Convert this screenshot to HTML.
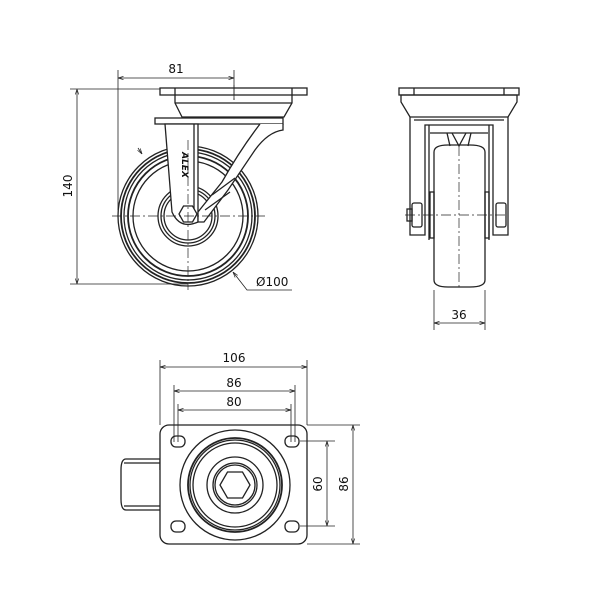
<!DOCTYPE html>
<html><head><meta charset="utf-8"><style>
html,body{margin:0;padding:0;background:#fff;}
svg{display:block}
text{font-family:"DejaVu Sans","Liberation Sans",sans-serif;font-size:12px;fill:#111}
</style></head><body>
<svg width="600" height="600" viewBox="0 0 600 600" xmlns="http://www.w3.org/2000/svg">
<defs>
<marker id="a" viewBox="0 0 10 10" refX="10" refY="5" markerWidth="7" markerHeight="7" orient="auto-start-reverse"><path d="M0,2 L10,5 L0,8" fill="none" stroke="#222" stroke-width="1.2"/></marker>
</defs>
<g fill="none" stroke="#222" stroke-width="1.3">
<!-- SIDE VIEW -->
<rect x="160" y="88" width="147" height="7"/>
<line x1="175" y1="88" x2="175" y2="95"/><line x1="292" y1="88" x2="292" y2="95"/>
<path d="M175,95 L175,103 L182,117 L284,117 L292,103 L292,95"/>
<line x1="175" y1="103" x2="292" y2="103"/>
<rect x="155" y="118" width="128" height="6"/>
<!-- wheel -->
<circle cx="188" cy="216" r="70"/>
<circle cx="188" cy="216" r="67" stroke-width="1.8"/>
<circle cx="188" cy="216" r="64"/>
<circle cx="188" cy="216" r="60" stroke-width="1.8"/>
<circle cx="188" cy="216" r="55"/>
<circle cx="188" cy="216" r="30"/>
<circle cx="188" cy="216" r="27"/>
<circle cx="188" cy="216" r="24"/>
<!-- fork leg -->
<path d="M165,124 L172,212 Q180,230 198,222 L198,124 Z" fill="#fff"/>
<line x1="194" y1="124" x2="194" y2="210"/>
<!-- brace -->
<path d="M283,124 L283,130 Q268,132 255,150 L228,190 L204,222 L198,222 L198,212 L222,182 Q240,150 260,124" fill="#fff"/>
<path d="M212,195 L235,178"/>
<path d="M205,210 L230,192"/>
<polygon points="197,214 192.5,222 183.5,222 179,214 183.5,206 192.5,206" fill="#fff"/>
<!-- dims -->
<line x1="118" y1="70" x2="118" y2="210" stroke-width="0.8"/>
<line x1="234" y1="70" x2="234" y2="100" stroke-width="0.8"/>
<line x1="118" y1="78" x2="234" y2="78" stroke-width="0.8" marker-start="url(#a)" marker-end="url(#a)"/>
<line x1="70" y1="89" x2="160" y2="89" stroke-width="0.8"/>
<line x1="70" y1="284" x2="188" y2="284" stroke-width="0.8"/>
<line x1="77" y1="89" x2="77" y2="284" stroke-width="0.8" marker-start="url(#a)" marker-end="url(#a)"/>
<path d="M233,272 L247,290 L292,290" stroke-width="0.8" marker-start="url(#a)"/>
<path d="M142,154 L138,148" stroke-width="0.8" marker-start="url(#a)"/>
<!-- center lines -->
<g stroke-dasharray="10,3,2,3" stroke-width="0.7">
<line x1="112" y1="216" x2="265" y2="216"/><line x1="188" y1="140" x2="188" y2="290"/>
<line x1="234" y1="85" x2="234" y2="102"/>
<line x1="405" y1="215" x2="505" y2="215"/><line x1="459" y1="146" x2="459" y2="290"/>
<line x1="180" y1="485" x2="290" y2="485"/><line x1="235" y1="460" x2="235" y2="510"/>
</g>
<!-- FRONT VIEW -->
<rect x="399" y="88" width="120" height="7"/>
<line x1="414" y1="88" x2="414" y2="95"/><line x1="504" y1="88" x2="504" y2="95"/>
<path d="M401,95 L401,102 L410,117 L508,117 L517,102 L517,95 Z"/>
<path d="M410,117 L410,235 L425,235 L425,125 L493,125 L493,235 L508,235 L508,117"/>
<line x1="414" y1="120" x2="504" y2="120"/>
<line x1="429" y1="125" x2="429" y2="240"/><line x1="489" y1="125" x2="489" y2="240"/>
<line x1="430" y1="133" x2="488" y2="133"/>
<path d="M447,133 L450,146 M471,133 L468,146 M452,133 L459,146 L466,133"/>
<path d="M434,152 Q434,145 448,145 L470,145 Q485,145 485,152 L485,280 Q485,287 470,287 L448,287 Q434,287 434,280 Z"/>
<rect x="430" y="192" width="4" height="46"/><rect x="485" y="192" width="4" height="46"/>
<rect x="412" y="203" width="10" height="24" rx="2"/><rect x="496" y="203" width="10" height="24" rx="2"/>
<rect x="407" y="209" width="5" height="12"/>
<line x1="434" y1="290" x2="434" y2="330" stroke-width="0.8"/><line x1="485" y1="290" x2="485" y2="330" stroke-width="0.8"/>
<line x1="434" y1="323" x2="485" y2="323" stroke-width="0.8" marker-start="url(#a)" marker-end="url(#a)"/>
<!-- BOTTOM VIEW -->
<path d="M160,470 L160,459 L126,459 Q121,459 121,470 L121,499 Q121,510 126,510 L160,510" fill="#fff"/>
<line x1="124" y1="463" x2="160" y2="463"/><line x1="124" y1="506" x2="160" y2="506"/>
<rect x="160" y="425" width="147" height="119" rx="9" fill="#fff"/>
<circle cx="235" cy="485" r="55"/>
<circle cx="235" cy="485" r="47" stroke-width="1.8"/>
<circle cx="235" cy="485" r="45"/>
<circle cx="235" cy="485" r="42"/>
<circle cx="235" cy="485" r="28"/>
<circle cx="235" cy="485" r="22"/>
<circle cx="235" cy="485" r="20"/>
<polygon points="250,485 242.5,472 227.5,472 220,485 227.5,498 242.5,498"/>
<rect x="171" y="436" width="14" height="11" rx="5"/>
<rect x="285" y="436" width="14" height="11" rx="5"/>
<rect x="171" y="521" width="14" height="11" rx="5"/>
<rect x="285" y="521" width="14" height="11" rx="5"/>
<!-- bottom dims -->
<line x1="160" y1="360" x2="160" y2="425" stroke-width="0.8"/><line x1="307" y1="360" x2="307" y2="425" stroke-width="0.8"/>
<line x1="160" y1="367" x2="307" y2="367" stroke-width="0.8" marker-start="url(#a)" marker-end="url(#a)"/>
<line x1="174" y1="385" x2="174" y2="442" stroke-width="0.8"/><line x1="295" y1="385" x2="295" y2="442" stroke-width="0.8"/>
<line x1="174" y1="391" x2="295" y2="391" stroke-width="0.8" marker-start="url(#a)" marker-end="url(#a)"/>
<line x1="178" y1="404" x2="178" y2="442" stroke-width="0.8"/><line x1="291" y1="404" x2="291" y2="442" stroke-width="0.8"/>
<line x1="178" y1="410" x2="291" y2="410" stroke-width="0.8" marker-start="url(#a)" marker-end="url(#a)"/>
<line x1="300" y1="441" x2="335" y2="441" stroke-width="0.8"/><line x1="300" y1="526" x2="335" y2="526" stroke-width="0.8"/>
<line x1="327" y1="441" x2="327" y2="526" stroke-width="0.8" marker-start="url(#a)" marker-end="url(#a)"/>
<line x1="307" y1="425" x2="360" y2="425" stroke-width="0.8"/><line x1="307" y1="544" x2="360" y2="544" stroke-width="0.8"/>
<line x1="353" y1="425" x2="353" y2="544" stroke-width="0.8" marker-start="url(#a)" marker-end="url(#a)"/>
</g>
<text x="176" y="73" text-anchor="middle">81</text>
<text transform="translate(72,186) rotate(-90)" text-anchor="middle">140</text>
<text x="256" y="286">Ø100</text>
<text x="459" y="319" text-anchor="middle">36</text>
<text x="234" y="362" text-anchor="middle">106</text>
<text x="234" y="387" text-anchor="middle">86</text>
<text x="234" y="406" text-anchor="middle">80</text>
<text transform="translate(322,484) rotate(-90)" text-anchor="middle">60</text>
<text transform="translate(348,484) rotate(-90)" text-anchor="middle">86</text>
<text transform="translate(182,165) rotate(90)" text-anchor="middle" style="font-size:9px;font-style:italic;font-weight:bold">ALEX</text>
</svg>
</body></html>
